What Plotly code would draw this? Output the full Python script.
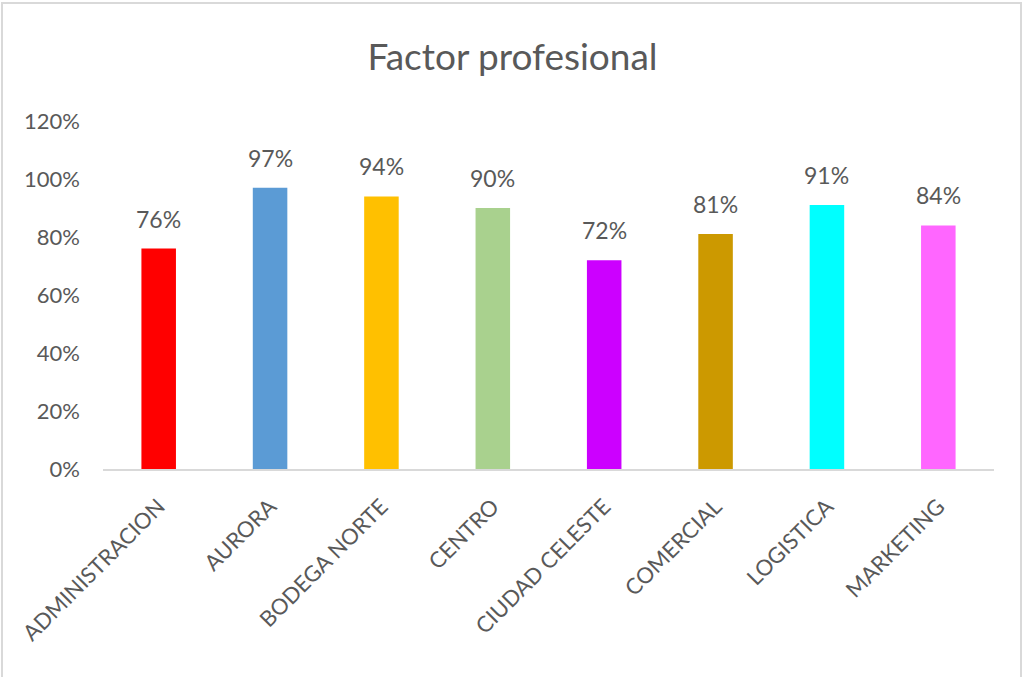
import plotly.graph_objects as go

categories = ["ADMINISTRACION", "AURORA", "BODEGA NORTE", "CENTRO",
              "CIUDAD CELESTE", "COMERCIAL", "LOGISTICA", "MARKETING"]
values = [0.76, 0.97, 0.94, 0.90, 0.72, 0.81, 0.91, 0.84]
bar_colors = ["#FF0000", "#5B9BD5", "#FFC000", "#A9D18E",
              "#CC00FF", "#CC9900", "#00FFFF", "#FF66FF"]
y_ticks = [0, 0.2, 0.4, 0.6, 0.8, 1.0, 1.2]

W, H = 1025, 677
L, R, T, B = 103, 31, 121, 208
FONT = "Lato, 'Open Sans', sans-serif"
GREY = "#595959"

fig = go.Figure()
fig.add_trace(go.Bar(
    x=categories, y=values,
    marker=dict(color=bar_colors, line=dict(width=0)),
    hoverinfo="skip",
))

# value labels above each bar
for c, v in zip(categories, values):
    fig.add_annotation(
        x=c, y=v, xref="x", yref="y",
        text=f"{round(v * 100)}%", showarrow=False,
        yanchor="bottom", yshift=14,
        font=dict(family=FONT, size=23, color=GREY),
    )

pw = W - L - R
ph = H - T - B
# light frame around the chart area
fig.add_shape(
    type="rect", xref="paper", yref="paper",
    x0=(2 - L) / pw, x1=(1021 - L) / pw,
    y0=-(B + 10) / ph, y1=(ph + T - 3) / ph,
    line=dict(color="#D9D9D9", width=2), fillcolor="rgba(0,0,0,0)", layer="below",
)

fig.update_layout(
    width=W, height=H,
    margin=dict(l=L, r=R, t=T, b=B),
    paper_bgcolor="white", plot_bgcolor="white",
    bargap=0.69, showlegend=False,
    title=dict(text="Factor profesional", x=0.5, xref="container",
               y=1 - 57 / H, yanchor="middle",
               font=dict(family=FONT, size=37, color=GREY)),
    xaxis=dict(
        tickangle=-45, showgrid=False, showline=True, linecolor="#D9D9D9",
        linewidth=2, ticks="", ticklabelstandoff=14,
        tickfont=dict(family=FONT, size=22, color=GREY),
    ),
    yaxis=dict(
        range=[0, 1.2], tickvals=y_ticks, tickformat=".0%",
        showgrid=False, zeroline=False, showline=False, ticks="",
        ticklabelstandoff=22,
        tickfont=dict(family=FONT, size=22, color=GREY),
    ),
)

fig.write_html("out.html")
